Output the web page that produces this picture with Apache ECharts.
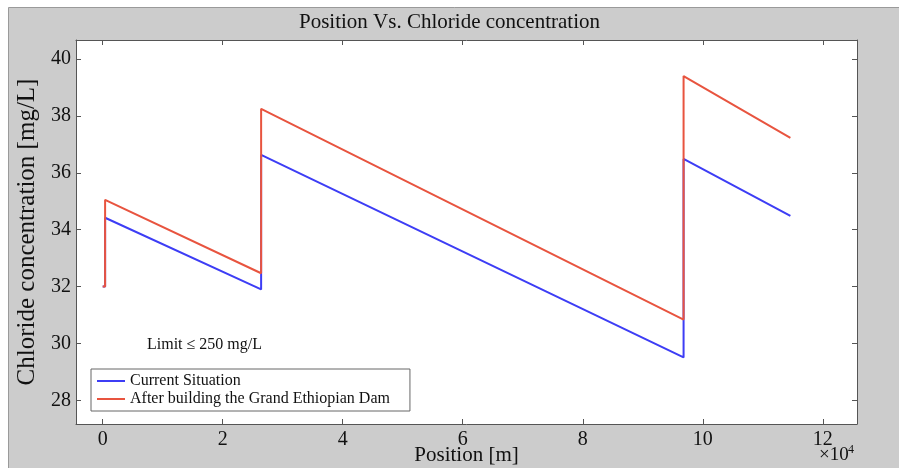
<!DOCTYPE html>
<html>
<head>
<meta charset="utf-8">
<script src="https://cdn.jsdelivr.net/npm/echarts@6/dist/echarts.min.js"></script>
<style>html,body{margin:0;padding:0;background:#fff;}#c{width:899px;height:468px;}</style>
</head>
<body>
<div id="c"></div>
<script>
// Data
const positions = [0, 0.04, 0.04, 2.64, 2.64, 9.68, 9.68, 11.46];           // ×10^4 m
const currentSituation = [32, 32, 34.42, 31.9, 36.63, 29.51, 36.49, 34.49];
const afterDam = [32, 32, 35.05, 32.47, 38.25, 30.84, 39.4, 37.23];
const xTicks = [0, 2, 4, 6, 8, 10, 12];
const yTicks = [28, 30, 32, 34, 36, 38, 40];
const seriesNames = ['Current Situation', 'After building the Grand Ethiopian Dam'];

const FONT = 'Liberation Serif';
const chart = echarts.init(document.getElementById('c'), null, {renderer: 'canvas'});

function pairs(ys) { return positions.map((x, i) => [x, ys[i]]); }

const axisLineStyle = {color: '#555', width: 1};
const xBase = {
  type: 'value', min: -0.445, max: 12.57,
  splitLine: {show: false},
  axisLine: {show: true, onZero: false, lineStyle: axisLineStyle},
  axisTick: {show: true, inside: true, length: 5, customValues: xTicks, lineStyle: {color: '#555'}},
};
const yBase = {
  type: 'value', min: 27.17, max: 40.67,
  splitLine: {show: false},
  axisLine: {show: true, onZero: false, lineStyle: axisLineStyle},
  axisTick: {show: true, inside: true, length: 5, customValues: yTicks, lineStyle: {color: '#555'}},
};

chart.setOption({
  backgroundColor: '#fff',
  animation: false,
  graphic: [
    {type: 'rect', z: -10, silent: true, shape: {x: 8.5, y: 7.5, width: 900, height: 470},
     style: {fill: '#cccccc', stroke: '#9a9a9a', lineWidth: 1}},
    {type: 'text', left: 147, top: 337, z: 10,
     style: {text: 'Limit ≤ 250 mg/L', font: '16px "Liberation Serif"', fill: '#111'}},
    {type: 'text', left: 819, top: 446, z: 10,
     style: {text: '×10', font: '19px "Liberation Serif"', fill: '#111'}},
    {type: 'text', left: 848, top: 444, z: 10,
     style: {text: '4', font: '12px "Liberation Serif"', fill: '#111'}}
  ],
  title: {
    text: 'Position Vs. Chloride concentration', left: 'center', top: 7,
    textStyle: {fontFamily: FONT, fontSize: 21, fontWeight: 'normal', color: '#111'}
  },
  legend: {
    data: seriesNames, orient: 'vertical', left: 91, top: 369,
    icon: 'rect', itemWidth: 28, itemHeight: 2, itemGap: 0,
    backgroundColor: '#fff', borderColor: '#666', borderWidth: 1,
    padding: [3, 20, 3, 6],
    textStyle: {fontFamily: FONT, fontSize: 16, color: '#111', lineHeight: 18}
  },
  grid: {left: 76, right: 42, top: 40, bottom: 44, show: true, backgroundColor: '#fff', borderWidth: 0,
         containLabel: false, outerBoundsMode: 'none'},
  xAxis: [
    Object.assign({}, xBase, {
      position: 'bottom',
      name: 'Position [m]', nameLocation: 'middle', nameGap: 21, nameMoveOverlap: false,
      nameTextStyle: {fontFamily: FONT, fontSize: 21, color: '#111', verticalAlign: 'top'},
      axisLabel: {show: true, customValues: xTicks, margin: 6, fontFamily: FONT, fontSize: 20, color: '#111'}
    }),
    Object.assign({}, xBase, {position: 'top', axisLabel: {show: false}})
  ],
  yAxis: [
    Object.assign({}, yBase, {
      position: 'left',
      name: 'Chloride concentration [mg/L]', nameLocation: 'middle', nameGap: 36, nameMoveOverlap: false,
      nameTextStyle: {fontFamily: FONT, fontSize: 25, color: '#111'},
      axisLabel: {show: true, customValues: yTicks, margin: 5, fontFamily: FONT, fontSize: 20, color: '#111'}
    }),
    Object.assign({}, yBase, {position: 'right', axisLabel: {show: false}})
  ],
  series: [
    {name: seriesNames[0], type: 'line', data: pairs(currentSituation), showSymbol: false, symbol: 'none',
     color: '#3d3df5', lineStyle: {width: 2, color: '#3d3df5'}, z: 2},
    {name: seriesNames[1], type: 'line', data: pairs(afterDam), showSymbol: false, symbol: 'none',
     color: '#e8543f', lineStyle: {width: 2, color: '#e8543f'}, z: 3}
  ]
});
</script>
</body>
</html>
